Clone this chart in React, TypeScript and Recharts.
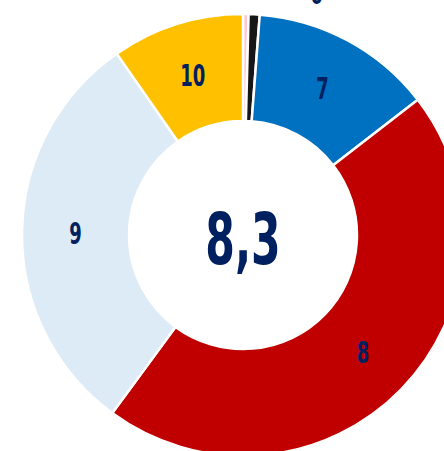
import { PieChart, Pie, Cell } from "recharts";

const categories = ["5", "6", "7", "8", "9", "10"];
const counts = [1, 2, 33, 113, 75, 24];
const sliceColors = ["#FFC7CE", "#161616", "#0070C0", "#C00000", "#DDEBF7", "#FFC000"];
const averageLabel = "8,3";

const data = categories.map((name, i) => ({ name, value: counts[i] }));

const NAVY = "#002060";
const RAD = Math.PI / 180;

const renderLabel = (props: any) => {
  const { cx, cy, midAngle, innerRadius, outerRadius, index, name } = props;
  const share = counts[index] / counts.reduce((a, b) => a + b, 0);
  let r = (innerRadius + outerRadius) / 2;
  let angle = midAngle;
  if (share < 0.005) return null;
  if (share < 0.02) {
    // small slice: label pushed outside, mostly off the top edge
    r = outerRadius + 32;
    angle = midAngle - 14;
  }
  const x = cx + r * Math.cos(-angle * RAD);
  const y = cy + r * Math.sin(-angle * RAD);
  return (
    <text
      x={0}
      y={0}
      transform={`translate(${x},${y}) scale(0.58,1)`}
      textAnchor="middle"
      dominantBaseline="central"
      fill={NAVY}
      fontSize={31}
      fontWeight="bold"
      fontFamily="DejaVu Sans"
    >
      {name}
    </text>
  );
};

export default function App() {
  const cx = 243;
  const cy = 235;
  return (
    <div style={{ position: "absolute", left: 0, top: 0, width: 444, height: 451, overflow: "hidden", background: "#fff" }}>
      <PieChart width={444} height={451} margin={{ top: 0, right: 0, bottom: 0, left: 0 }}>
        <Pie
          data={data}
          dataKey="value"
          nameKey="name"
          cx={cx}
          cy={cy}
          innerRadius={114}
          outerRadius={221}
          startAngle={90}
          endAngle={-270}
          stroke="#ffffff"
          strokeWidth={2.5}
          label={renderLabel}
          labelLine={false}
          isAnimationActive={false}
        >
          {data.map((d, i) => (
            <Cell key={d.name} fill={sliceColors[i]} />
          ))}
        </Pie>
        <text
          x={0}
          y={0}
          transform={`translate(${cx},${cy + 5}) scale(0.6,1)`}
          textAnchor="middle"
          dominantBaseline="central"
          fill={NAVY}
          fontSize={71}
          fontWeight="bold"
          fontFamily="DejaVu Sans"
        >
          {averageLabel}
        </text>
      </PieChart>
    </div>
  );
}
